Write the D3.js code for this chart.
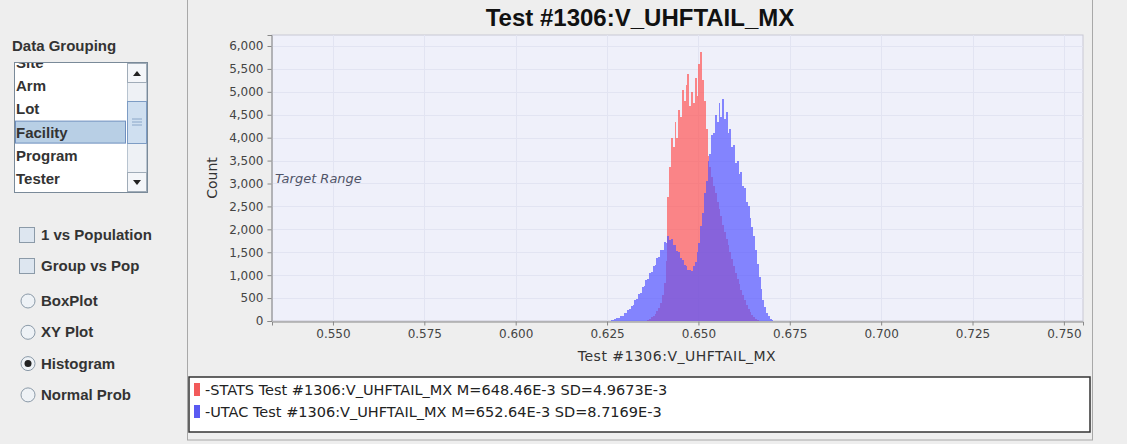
<!DOCTYPE html>
<html>
<head>
<meta charset="utf-8">
<script src="https://cdn.jsdelivr.net/npm/d3@7"></script>
<style>
  body { margin: 0; background: #eeeeee; }
  svg text { font-family: "Liberation Sans", Arial, sans-serif; }
  svg text.dv { font-family: "DejaVu Sans", sans-serif; }
</style>
</head>
<body>
<svg id="chart" width="1127" height="444"></svg>
<script>
// Histogram data (bin width 0.0005, counts per bin)
const binWidth = 0.0005;
const utacStart = 0.6255;
const utacCounts = [10, 15, 30, 40, 60, 75, 105, 120, 165, 180, 240, 260, 330, 360, 450, 480, 580, 610, 740, 760,
  900, 920, 1050, 1070, 1200, 1220, 1380, 1390, 1540, 1560, 1720, 1700, 1850, 1760, 1790, 1660, 1650, 1520, 1500, 1370,
  1330, 1220, 1190, 1110, 1120, 1090, 1200, 1280, 1500, 1700, 2080, 2350, 2800, 3050, 3500, 3650, 4050, 4100, 4500, 4350,
  4750, 4450, 4850, 4400, 4550, 4100, 4200, 3800, 3850, 3450, 3500, 3200, 3250, 2950, 2900, 2600, 2500, 2250, 2050, 1850,
  1550, 1250, 950, 700, 450, 300, 170, 100, 50, 25, 10];
const statsStart = 0.6360;
const statsCounts = [30, 50, 80, 110, 150, 210, 280, 400, 560, 820, 1300, 2700, 3350, 4000, 3800, 4350, 4000, 4600, 4450, 5050,
  4800, 5150, 5400, 4700, 5000, 4750, 5300, 4900, 5600, 5880, 5250, 4800, 4200, 3600, 3350, 3150, 2950, 2800, 2600, 2450,
  2300, 2100, 1950, 1800, 1650, 1500, 1350, 1200, 1050, 920, 800, 680, 560, 450, 360, 270, 200, 130, 80, 40, 20];

const yTicks = [0, 500, 1000, 1500, 2000, 2500, 3000, 3500, 4000, 4500, 5000, 5500, 6000];
const xTicks = [0.550, 0.575, 0.600, 0.625, 0.650, 0.675, 0.700, 0.725, 0.750];
const legendLabels = ["-STATS Test #1306:V_UHFTAIL_MX M=648.46E-3 SD=4.9673E-3",
                      "-UTAC Test #1306:V_UHFTAIL_MX M=652.64E-3 SD=8.7169E-3"];
const groupingItems = ["Site", "Arm", "Lot", "Facility", "Program", "Tester"];
const checkItems = ["1 vs Population", "Group vs Pop"];
const radioItems = ["BoxPlot", "XY Plot", "Histogram", "Normal Prob"];

const svg = d3.select("#chart");

// ---------- left panel ----------
const left = svg.append("g");
left.append("text").attr("x", 12).attr("y", 51).text("Data Grouping")
  .attr("font-size", 15).attr("font-weight", "bold").attr("fill", "#333");

left.append("rect").attr("x", 14.5).attr("y", 62.5).attr("width", 133).attr("height", 130)
  .attr("fill", "#fff").attr("stroke", "#7a8a99");
left.append("clipPath").attr("id", "listClip")
  .append("rect").attr("x", 15).attr("y", 63).attr("width", 112).attr("height", 129);
const list = left.append("g").attr("clip-path", "url(#listClip)");
groupingItems.forEach((d, i) => {
  const yb = 68 + i * 23.2;
  if (d === "Facility") {
    list.append("rect").attr("x", 15.5).attr("y", yb - 16.5).attr("width", 110).attr("height", 22)
      .attr("fill", "#b8cfe5").attr("stroke", "#6f8fbf");
  }
  list.append("text").attr("x", 16).attr("y", yb).text(d)
    .attr("font-size", 15).attr("font-weight", "bold").attr("fill", "#333");
});
// scrollbar
left.append("rect").attr("x", 127.5).attr("y", 63.5).attr("width", 19).attr("height", 128).attr("fill", "#eef1f5").attr("stroke", "#b8c4d0");
left.append("rect").attr("x", 127.5).attr("y", 63.5).attr("width", 19).attr("height", 19).attr("fill", "#f4f6f9").attr("stroke", "#a0acb8");
left.append("rect").attr("x", 127.5).attr("y", 172.5).attr("width", 19).attr("height", 19).attr("fill", "#f4f6f9").attr("stroke", "#a0acb8");
left.append("rect").attr("x", 127.5).attr("y", 101.5).attr("width", 19).attr("height", 42).attr("fill", "#cfdff0").attr("stroke", "#7d9cc4");
[119, 122, 125].forEach(y => left.append("line").attr("x1", 132).attr("x2", 142).attr("y1", y).attr("y2", y).attr("stroke", "#8aa6c8"));
left.append("path").attr("d", "M133,76 L141,76 L137,71 Z").attr("fill", "#222");
left.append("path").attr("d", "M133,180 L141,180 L137,185 Z").attr("fill", "#222");

checkItems.forEach((d, i) => {
  const yc = 235 + i * 31;
  left.append("rect").attr("x", 19.5).attr("y", yc - 7.5).attr("width", 15).attr("height", 15)
    .attr("fill", "#dde6f0").attr("stroke", "#8b9aa8");
  left.append("text").attr("x", 41).attr("y", yc + 5).text(d)
    .attr("font-size", 15).attr("font-weight", "bold").attr("fill", "#333");
});
radioItems.forEach((d, i) => {
  const yc = 301 + i * 31.3;
  left.append("circle").attr("cx", 28).attr("cy", yc).attr("r", 7)
    .attr("fill", "#eef2f6").attr("stroke", "#8b9aa8");
  if (d === "Histogram") left.append("circle").attr("cx", 28).attr("cy", yc).attr("r", 3.5).attr("fill", "#222");
  left.append("text").attr("x", 41).attr("y", yc + 5).text(d)
    .attr("font-size", 15).attr("font-weight", "bold").attr("fill", "#333");
});

// ---------- chart panel ----------
svg.append("rect").attr("x", 187.5).attr("y", -1).attr("width", 905).attr("height", 441)
  .attr("fill", "#eeeeee").attr("stroke", "#a8a8a8");

svg.append("text").attr("x", 640).attr("y", 26).attr("text-anchor", "middle")
  .attr("font-size", 24).attr("font-weight", "bold").attr("fill", "#111")
  .text("Test #1306:V_UHFTAIL_MX");

const plot = { left: 272, right: 1083, top: 35, bottom: 321 };
const x = d3.scaleLinear().domain([0.53332, 0.75523]).range([plot.left, plot.right]);
const y = d3.scaleLinear().domain([0, 6240]).range([plot.bottom, plot.top]);

svg.append("rect").attr("x", plot.left).attr("y", plot.top)
  .attr("width", plot.right - plot.left).attr("height", plot.bottom - plot.top)
  .attr("fill", "#eff0fa").attr("stroke", "#c8c8d4");

// gridlines
svg.append("g").selectAll("line").data(yTicks.slice(1)).join("line")
  .attr("x1", plot.left).attr("x2", plot.right)
  .attr("y1", d => Math.round(y(d)) + 0.5).attr("y2", d => Math.round(y(d)) + 0.5)
  .attr("stroke", "#e2e4f2");
svg.append("g").selectAll("line").data(xTicks).join("line")
  .attr("x1", d => Math.round(x(d)) + 0.5).attr("x2", d => Math.round(x(d)) + 0.5)
  .attr("y1", plot.top).attr("y2", plot.bottom)
  .attr("stroke", "#e2e4f2");

svg.append("text").attr("class", "dv").attr("x", 275).attr("y", 183).text("Target Range")
  .attr("font-size", 13).attr("font-style", "italic").attr("fill", "#505468");

// bars: STATS first, UTAC on top
function drawBars(start, counts, color) {
  svg.append("g").attr("shape-rendering", "crispEdges").selectAll("rect").data(counts).join("rect")
    .attr("x", (d, i) => x(start + i * binWidth))
    .attr("width", (d, i) => x(start + (i + 1) * binWidth) - x(start + i * binWidth))
    .attr("y", d => y(d))
    .attr("height", d => y(0) - y(d))
    .attr("fill", color)
    .attr("fill-opacity", 0.7);
}
drawBars(statsStart, statsCounts, "#ff5555");
drawBars(utacStart, utacCounts, "#5555ff");

// axes
const yAxis = svg.append("g").attr("transform", `translate(${plot.left - 0.5},0)`)
  .call(d3.axisLeft(y).tickValues(yTicks).tickFormat(d3.format(",")).tickSize(4).tickPadding(4));
const xAxis = svg.append("g").attr("transform", `translate(0,${plot.bottom + 0.5})`)
  .call(d3.axisBottom(x).tickValues(xTicks).tickFormat(d3.format(".3f")).tickSize(4).tickPadding(4));
[yAxis, xAxis].forEach(a => {
  a.select(".domain").attr("stroke", "#888");
  a.selectAll(".tick line").attr("stroke", "#888");
  a.selectAll(".tick text").attr("class", "dv").attr("font-size", 12).attr("fill", "#444");
});

svg.append("text").attr("class", "dv").attr("transform", "translate(217,178) rotate(-90)")
  .attr("text-anchor", "middle").attr("font-size", 14).attr("fill", "#333").text("Count");
svg.append("text").attr("class", "dv").attr("x", 677).attr("y", 361).attr("text-anchor", "middle")
  .attr("font-size", 14).attr("letter-spacing", 0.5).attr("fill", "#333").text("Test #1306:V_UHFTAIL_MX");

// legend
svg.append("rect").attr("x", 189).attr("y", 377).attr("width", 901).attr("height", 55)
  .attr("fill", "#fff").attr("stroke", "#333").attr("stroke-width", 1.5);
const legendColors = ["#f25a5a", "#5a5af2"];
legendLabels.forEach((d, i) => {
  const yb = 395 + i * 22;
  svg.append("rect").attr("x", 194).attr("y", yb - 12).attr("width", 6).attr("height", 13).attr("fill", legendColors[i]);
  svg.append("text").attr("class", "dv").attr("x", 205).attr("y", yb).text(d).attr("font-size", 14.5).attr("fill", "#222");
});
</script>
</body>
</html>
